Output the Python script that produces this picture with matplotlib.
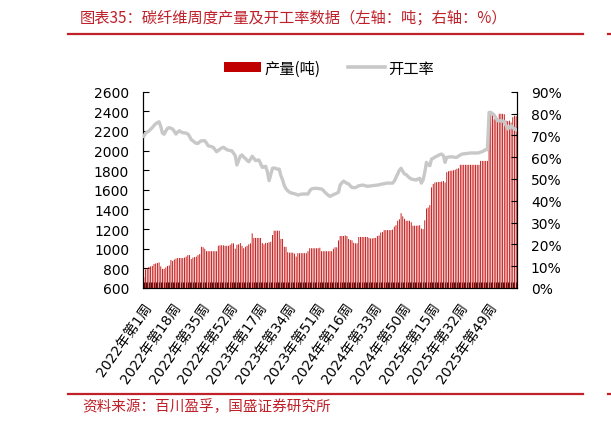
import matplotlib
matplotlib.use("Agg")
import matplotlib.pyplot as plt
from matplotlib.patches import Patch
from matplotlib.lines import Line2D
from matplotlib.transforms import ScaledTranslation

plt.rcParams['font.family'] = ['DejaVu Sans', 'Noto Sans CJK SC']

# ---------------- data ----------------
years = [2022, 2023, 2024, 2025, 2026]
weeks_per_year = [52, 52, 52, 52, 13]
weeks = [f"{y}年第{w}周" for y, n in zip(years, weeks_per_year) for w in range(1, n + 1)]

production = [
    710, 790, 805, 815, 820, 825, 845, 850, 855, 860,
    820, 795, 795, 810, 825, 830, 885, 875, 890, 900,
    905, 905, 905, 905, 910, 920, 935, 935, 895, 910,
    915, 920, 935, 945, 1020, 1015, 1000, 975, 975, 975,
    975, 975, 975, 975, 1030, 1035, 1035, 1035, 1030, 1030,
    1030, 1040, 1055, 1055, 1000, 1040, 1045, 1058, 1030, 1005,
    1020, 1030, 1045, 1055, 1157, 1110, 1110, 1110, 1110, 1110,
    1058, 1045, 1060, 1060, 1065, 1072, 1140, 1184, 1184, 1184,
    1184, 1100, 1100, 1020, 1020, 965, 960, 960, 960, 950,
    920, 955, 955, 955, 955, 955, 955, 975, 1005, 1005,
    1005, 1005, 1005, 1005, 1010, 975, 975, 975, 975, 975,
    975, 975, 1000, 1015, 1015, 1085, 1130, 1130, 1130, 1135,
    1130, 1100, 1090, 1085, 1060, 1055, 1055, 1120, 1120, 1120,
    1120, 1120, 1120, 1110, 1105, 1105, 1110, 1110, 1130, 1135,
    1165, 1170, 1190, 1190, 1190, 1190, 1190, 1195, 1225, 1240,
    1285, 1300, 1362, 1330, 1305, 1285, 1285, 1285, 1270, 1235,
    1235, 1235, 1235, 1240, 1205, 1200, 1290, 1410, 1420, 1445,
    1625, 1660, 1675, 1678, 1680, 1680, 1685, 1690, 1675, 1780,
    1790, 1795, 1795, 1800, 1805, 1815, 1820, 1855, 1855, 1855,
    1855, 1855, 1855, 1855, 1855, 1855, 1855, 1855, 1855, 1895,
    1895, 1895, 1895, 1895, 2390, 2390, 2385, 2320, 2320, 2325,
    2375, 2375, 2375, 2370, 2305, 2300, 2305, 2285, 2340, 2355,
    2350]

rate = [
    69.5, 71.0, 71.5, 72.0, 72.8, 73.5, 74.5, 75.3, 75.8, 76.2,
    74.0, 71.0, 70.5, 72.0, 73.2, 73.5, 73.2, 72.9, 71.8, 70.6,
    71.5, 72.1, 71.5, 71.2, 71.1, 71.0, 70.6, 69.5, 68.0, 67.5,
    66.8, 66.3, 66.3, 67.0, 67.5, 67.5, 67.5, 66.5, 65.2, 65.0,
    64.8, 64.5, 63.5, 62.5, 63.0, 63.7, 64.2, 64.5, 64.0, 63.4,
    63.2, 63.0, 62.9, 61.8, 60.7, 56.4, 58.5, 60.5, 61.0, 60.0,
    59.4, 58.5, 57.9, 59.0, 60.4, 59.5, 58.4, 58.6, 58.7, 57.0,
    55.3, 55.5, 55.8, 53.3, 49.2, 52.0, 54.9, 55.0, 54.8, 54.5,
    54.5, 51.5, 49.5, 46.9, 45.5, 44.6, 44.0, 43.6, 43.4, 43.2,
    43.0, 42.6, 42.8, 43.0, 43.1, 43.1, 43.1, 43.1, 44.5, 45.4,
    45.6, 45.7, 45.7, 45.6, 45.5, 45.4, 44.8, 43.9, 43.2, 42.5,
    42.0, 42.4, 42.8, 43.1, 43.5, 43.9, 47.2, 48.2, 49.0, 48.5,
    48.0, 47.7, 46.8, 46.1, 46.0, 46.0, 46.4, 46.9, 47.0, 47.2,
    47.1, 46.9, 46.6, 46.7, 46.8, 46.9, 47.0, 47.1, 47.2, 47.3,
    47.5, 47.7, 47.8, 48.0, 48.1, 48.1, 48.1, 48.1, 49.0, 50.7,
    52.5, 54.0, 54.9, 53.5, 52.3, 52.0, 51.2, 50.5, 50.0, 49.8,
    49.6, 49.5, 50.0, 50.3, 48.1, 49.5, 53.0, 57.6, 56.5, 56.1,
    59.1, 59.5, 60.0, 60.4, 60.8, 61.2, 61.4, 60.7, 57.6, 59.9,
    60.0, 60.1, 60.2, 60.0, 59.9, 59.9, 60.5, 61.0, 61.4, 61.5,
    61.6, 61.7, 61.8, 61.9, 61.9, 61.9, 61.9, 61.9, 62.0, 62.3,
    62.5, 63.0, 63.4, 63.4, 80.5, 80.5, 80.0, 79.3, 78.0, 76.7,
    76.7, 76.7, 76.5, 76.2, 74.5, 72.9, 73.5, 74.4, 73.5, 72.9,
    72.6]

left_ticks = [600, 800, 1000, 1200, 1400, 1600, 1800, 2000, 2200, 2400, 2600]
right_ticks = [0, 10, 20, 30, 40, 50, 60, 70, 80, 90]
label_step = 17

title = "图表35：碳纤维周度产量及开工率数据（左轴：吨；右轴：%）"
source = "资料来源：百川盈孚，国盛证券研究所"
series_names = ["产量(吨)", "开工率"]

RED = "#C00000"
DEEP = "#C0202A"
GRAY = "#C8C8C8"

# ---------------- figure ----------------
fig = plt.figure(figsize=(6.11, 4.27), dpi=100)
W, H = 611, 427
ax = fig.add_axes([143 / W, 1 - 289 / H, (517 - 143) / W, (289 - 92.7) / H])
x = list(range(len(weeks)))
bars = ax.bar(x, production, width=0.5, color=RED, linewidth=0, zorder=2)
for b in bars:
    b.set_snap(False)
ax.set_ylim(600, 2600)
ax.set_xlim(-0.5, len(weeks) - 0.5)
ax.set_yticks(left_ticks)
ax.set_xticks(x)
ax.set_xticklabels([w if i % label_step == 0 else "" for i, w in enumerate(weeks)],
                   rotation=55, ha='right', va='center', rotation_mode='anchor')
ax.tick_params(axis='x', direction='in', length=4, width=0.8, color='#222222', pad=11.5, labelsize=10)
ax.tick_params(axis='y', direction='in', length=4, width=0.8, pad=10, labelsize=10)
ax.spines['top'].set_visible(False)
for sp in ['left', 'right', 'bottom']:
    ax.spines[sp].set_linewidth(0.8)
for lab in ax.get_xticklabels():
    lab.set_transform(lab.get_transform() + ScaledTranslation(5 / 100, 0, fig.dpi_scale_trans))

ax2 = ax.twinx()
ax2.plot(x, rate, color=GRAY, linewidth=2.4, solid_joinstyle='round', zorder=3)
ax2.set_ylim(0, 90)
ax2.set_yticks(right_ticks)
ax2.set_yticklabels([f"{t}%" for t in right_ticks])
ax2.tick_params(axis='y', direction='in', length=4, width=0.8, pad=10, labelsize=10)
ax2.spines['top'].set_visible(False)
ax2.spines['right'].set_linewidth(0.8)

# legend
handles = [Patch(facecolor=RED, edgecolor='none'),
           Line2D([0], [0], color=GRAY, linewidth=2.6)]
fig.legend(handles, series_names, loc='center', bbox_to_anchor=(329 / W, 1 - 69 / H),
           ncol=2, frameon=False, handlelength=2.4, handleheight=0.55, handletextpad=0.25,
           columnspacing=1.8, prop={'family': ['Noto Sans CJK SC'], 'size': 11})

# header / footer
fig.text(80 / W, 1 - 18 / H, title, color=DEEP, fontsize=11, va='center', ha='left',
         family=['Noto Sans CJK SC', 'DejaVu Sans'])
for yy in (35, 394.7):
    fig.add_artist(Line2D([68 / W, 583 / W], [1 - yy / H, 1 - yy / H], color=DEEP, linewidth=1.6))
    fig.add_artist(Line2D([608 / W, 1.0], [1 - yy / H, 1 - yy / H], color=DEEP, linewidth=1.6))
fig.text(82 / W, 1 - 407 / H, source, color=DEEP, fontsize=10.5, va='center', ha='left',
         family=['Noto Sans CJK SC', 'DejaVu Sans'])

fig.savefig("out.png", dpi=100)
